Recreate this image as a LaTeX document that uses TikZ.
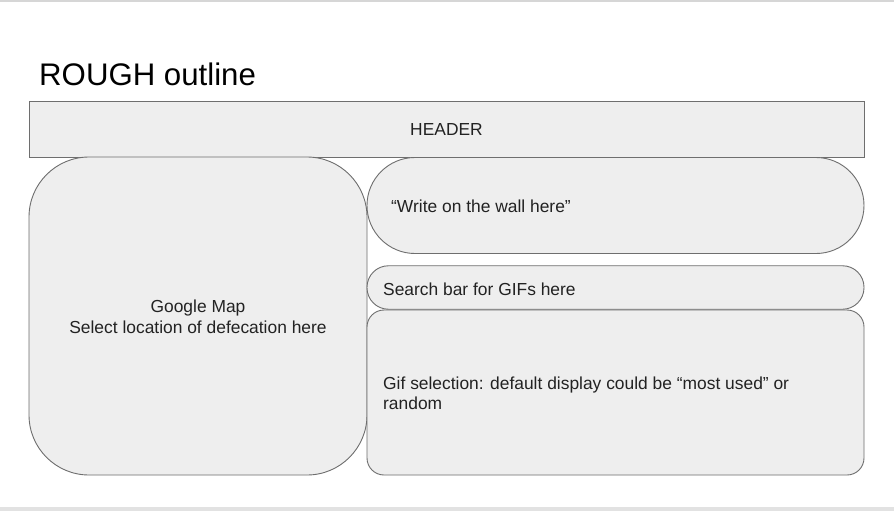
\documentclass[tikz,border=0pt]{standalone}
\usepackage{fontspec}
\setmainfont{Liberation Sans}
\begin{document}
\begin{tikzpicture}[x=1pt,y=-1pt,
  box/.style={draw=boxline, fill=boxfill, line width=0.9pt, inner sep=0pt, outer sep=0pt},
  lbl/.style={text=txt, font=\fontsize{17.4}{20.5}\selectfont, inner sep=0pt},
]
\definecolor{boxline}{HTML}{6E6E6E}
\definecolor{boxfill}{HTML}{EEEEEE}
\definecolor{txt}{HTML}{222222}
\definecolor{frame}{HTML}{D6D6D6}
\useasboundingbox (0,0) rectangle (894,511);
\fill[white] (0,0) rectangle (894,511);
% page frame
\fill[frame] (0,0.5) rectangle (894,2);
\fill[frame!70] (0,507) rectangle (894,511);
% title
\node[anchor=base west, inner sep=0pt, text=black, font=\fontsize{31.2}{36}\selectfont] (title) at (39,85) {ROUGH outline};
% boxes
\node[box, minimum width=835pt, minimum height=56pt] (header) at (446.5,129.5) {};
\node[box, minimum width=338pt, minimum height=318pt, rounded corners=60pt] (map) at (198,316) {};
\node[box, minimum width=497pt, minimum height=96pt, rounded corners=48pt] (wall) at (615.5,205.5) {};
\node[box, minimum width=497pt, minimum height=43.5pt, rounded corners=21.5pt] (search) at (615.5,287.5) {};
\node[box, minimum width=497pt, minimum height=165pt, rounded corners=17pt] (gif) at (615.5,392.5) {};
% texts
\node[lbl] (headertxt) at (header) {HEADER};
\node[lbl, align=center] (maptxt) at (198,317) {Google Map\\Select location of defecation here};
\node[lbl, anchor=west] (walltxt) at (391,206) {“Write on the wall here”};
\node[lbl, anchor=west] (searchtxt) at (383,289) {Search bar for GIFs here};
\node[lbl, anchor=west, align=left] (giftxt) at (383,393.5) {Gif selection: default display could be “most used” or\\random};
\end{tikzpicture}
\end{document}
